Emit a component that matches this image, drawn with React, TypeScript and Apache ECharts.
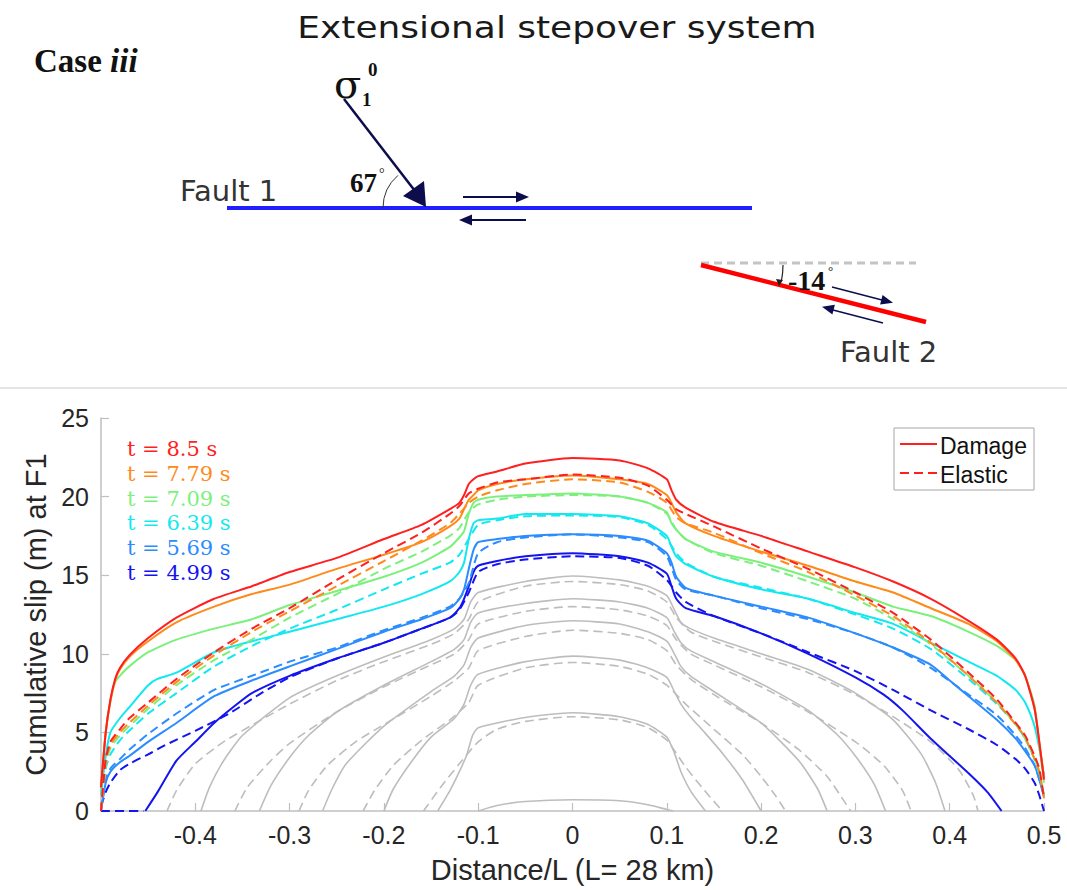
import React, { useEffect, useRef } from "react";
import * as echarts from "echarts";

// ---------- data (x = Distance/L, y = cumulative slip in m) ----------
const X_TICK_MIN = -0.5;
const X_TICK_MAX = 0.5;
const Y_TICK_MIN = 0;
const Y_TICK_MAX = 25;

const TIME_LABELS = ["t = 8.5 s", "t = 7.79 s", "t = 7.09 s", "t = 6.39 s", "t = 5.69 s", "t = 4.99 s"];
const TIME_COLORS = ["#ff1f1f", "#ff8a1a", "#7cf07c", "#12e8f0", "#2b8cff", "#1414f0"];
const GRAY = "#bdbdbd";

const RED_DAMAGE = [[-0.5,1.5],[-0.495,5.0],[-0.49,7.1],[-0.485,8.4],[-0.48,9.1],[-0.47,9.9],[-0.45,11.0],[-0.42,12.3],[-0.38,13.5],[-0.34,14.3],[-0.3,15.2],[-0.25,16.1],[-0.2,17.3],[-0.16,18.2],[-0.13,19.2],[-0.12,19.6],[-0.115,20.1],[-0.11,20.8],[-0.105,21.1],[-0.1,21.3],[-0.08,21.6],[-0.05,22.1],[0,22.45],[0.05,22.3],[0.08,21.8],[0.1,21.1],[0.105,20.4],[0.11,19.8],[0.12,19.3],[0.15,18.4],[0.2,17.5],[0.25,16.5],[0.3,15.5],[0.34,14.6],[0.38,13.5],[0.42,12.1],[0.45,10.9],[0.47,9.7],[0.48,8.6],[0.49,6.5],[0.495,4.4],[0.5,2.0]];
const ORANGE_DAMAGE = [[-0.5,1.5],[-0.495,5.0],[-0.49,7.0],[-0.485,8.3],[-0.48,9.0],[-0.47,9.8],[-0.45,10.8],[-0.42,12.0],[-0.38,13.0],[-0.34,13.8],[-0.3,14.4],[-0.25,15.4],[-0.2,16.3],[-0.16,17.1],[-0.13,18.1],[-0.12,18.6],[-0.115,19.2],[-0.11,19.8],[-0.105,20.1],[-0.1,20.4],[-0.08,20.8],[-0.05,21.1],[0,21.35],[0.05,21.1],[0.08,20.8],[0.1,20.1],[0.105,19.6],[0.11,19.0],[0.12,18.3],[0.15,17.5],[0.2,16.5],[0.25,15.6],[0.3,14.6],[0.34,13.9],[0.38,12.9],[0.42,11.9],[0.45,10.8],[0.47,9.6],[0.48,8.6],[0.49,6.5],[0.495,4.4],[0.5,2.1]];
const GREEN_DAMAGE = [[-0.5,1.4],[-0.495,5.0],[-0.49,7.0],[-0.485,8.2],[-0.48,8.6],[-0.47,9.2],[-0.45,10.1],[-0.42,10.9],[-0.38,11.6],[-0.34,12.2],[-0.3,13.1],[-0.25,14.0],[-0.2,14.9],[-0.16,15.8],[-0.13,16.8],[-0.12,17.4],[-0.115,17.8],[-0.11,18.9],[-0.105,19.6],[-0.1,19.8],[-0.08,20.0],[-0.05,20.1],[0,20.2],[0.05,20.0],[0.08,19.6],[0.1,19.0],[0.105,18.3],[0.11,17.9],[0.12,17.3],[0.15,16.5],[0.2,15.8],[0.25,14.9],[0.3,13.9],[0.34,13.0],[0.38,12.4],[0.42,11.4],[0.45,10.5],[0.47,9.6],[0.48,8.6],[0.49,6.7],[0.495,4.2],[0.5,1.8]];
const CYAN_DAMAGE = [[-0.5,1.0],[-0.495,3.5],[-0.49,5.0],[-0.48,5.9],[-0.47,6.6],[-0.45,8.0],[-0.44,8.4],[-0.42,8.8],[-0.38,10.1],[-0.34,10.8],[-0.3,11.4],[-0.25,12.2],[-0.2,13.0],[-0.16,13.8],[-0.13,14.6],[-0.12,15.2],[-0.115,15.8],[-0.11,17.3],[-0.105,18.3],[-0.1,18.5],[-0.08,18.6],[-0.05,18.9],[0,18.9],[0.05,18.75],[0.08,18.3],[0.1,17.5],[0.105,16.8],[0.11,16.2],[0.12,15.7],[0.15,14.9],[0.2,14.1],[0.25,13.5],[0.3,12.6],[0.34,11.9],[0.38,10.7],[0.42,9.5],[0.45,8.6],[0.47,7.7],[0.48,6.9],[0.49,5.4],[0.495,4.0],[0.5,2.3]];
const LIGHTBLUE_DAMAGE = [[-0.5,0],[-0.495,1.8],[-0.49,2.5],[-0.48,3.1],[-0.47,3.5],[-0.45,4.4],[-0.42,5.6],[-0.38,7.3],[-0.34,8.3],[-0.3,9.2],[-0.25,10.3],[-0.2,11.4],[-0.16,12.2],[-0.13,12.9],[-0.12,13.5],[-0.115,14.1],[-0.11,15.4],[-0.105,16.6],[-0.1,17.1],[-0.08,17.3],[-0.05,17.5],[0,17.6],[0.05,17.5],[0.08,17.2],[0.1,16.4],[0.105,15.8],[0.11,14.9],[0.12,14.2],[0.15,13.7],[0.2,13.0],[0.25,12.3],[0.3,11.3],[0.34,10.4],[0.38,9.3],[0.4,8.3],[0.42,7.3],[0.45,5.8],[0.47,4.6],[0.48,3.8],[0.49,2.9],[0.495,2.0],[0.5,0.9]];
const BLUE_DAMAGE = [[-0.453,0],[-0.44,1.2],[-0.42,3.2],[-0.4,4.4],[-0.38,5.6],[-0.36,6.6],[-0.34,7.5],[-0.3,8.6],[-0.25,9.7],[-0.2,10.7],[-0.16,11.6],[-0.13,12.3],[-0.12,12.9],[-0.115,13.5],[-0.11,14.3],[-0.105,15.2],[-0.1,15.6],[-0.08,15.9],[-0.05,16.2],[0,16.4],[0.05,16.2],[0.08,15.8],[0.1,15.1],[0.105,14.3],[0.11,13.5],[0.12,12.9],[0.15,12.4],[0.2,11.3],[0.25,10.0],[0.3,8.5],[0.33,7.4],[0.35,6.4],[0.38,4.6],[0.42,2.4],[0.44,1.2],[0.455,0]];
const BLUE_TIP_ZERO = [[-0.5,0],[-0.455,0]];

const RED_ELASTIC = [[-0.5,0],[-0.495,3.3],[-0.49,4.4],[-0.48,5.2],[-0.47,5.9],[-0.45,6.9],[-0.42,8.4],[-0.38,10.1],[-0.34,11.6],[-0.3,12.9],[-0.25,14.7],[-0.2,16.4],[-0.16,17.7],[-0.13,18.9],[-0.12,19.4],[-0.11,20.2],[-0.1,20.5],[-0.08,20.9],[-0.05,21.1],[0,21.4],[0.05,21.2],[0.08,20.7],[0.1,19.8],[0.11,19.2],[0.12,18.9],[0.15,18.1],[0.2,16.7],[0.25,15.4],[0.3,13.9],[0.34,12.6],[0.38,10.9],[0.42,8.8],[0.45,7.1],[0.47,5.6],[0.48,4.8],[0.49,3.5],[0.495,2.7],[0.5,0.8]];
const ORANGE_ELASTIC = [[-0.5,0],[-0.495,3.1],[-0.49,4.2],[-0.48,5.0],[-0.47,5.6],[-0.45,6.7],[-0.42,8.2],[-0.38,9.9],[-0.34,11.4],[-0.3,12.7],[-0.25,14.3],[-0.2,15.9],[-0.16,17.2],[-0.13,18.3],[-0.12,18.9],[-0.11,19.6],[-0.1,20.0],[-0.08,20.4],[-0.05,20.8],[0,21.1],[0.05,20.9],[0.08,20.3],[0.1,19.6],[0.11,18.7],[0.12,18.3],[0.15,17.7],[0.2,16.4],[0.25,15.2],[0.3,13.7],[0.34,12.4],[0.38,10.7],[0.42,8.6],[0.45,6.9],[0.47,5.5],[0.48,4.7],[0.49,3.3],[0.495,2.5],[0.5,0.8]];
const GREEN_ELASTIC = [[-0.5,0],[-0.495,2.9],[-0.49,4.0],[-0.48,4.8],[-0.47,5.4],[-0.45,6.5],[-0.42,8.0],[-0.38,9.6],[-0.34,10.9],[-0.3,12.3],[-0.25,13.8],[-0.2,15.4],[-0.16,16.5],[-0.13,17.5],[-0.12,18.0],[-0.11,19.0],[-0.1,19.5],[-0.08,19.8],[-0.05,20.0],[0,20.1],[0.05,20.0],[0.08,19.6],[0.1,18.9],[0.11,17.9],[0.12,17.3],[0.15,16.4],[0.2,15.6],[0.25,14.6],[0.3,13.5],[0.34,12.2],[0.38,10.6],[0.42,8.6],[0.45,6.9],[0.47,5.5],[0.48,4.6],[0.49,3.3],[0.495,2.5],[0.5,1.0]];
const CYAN_ELASTIC = [[-0.5,0],[-0.495,2.7],[-0.49,3.6],[-0.48,4.5],[-0.47,5.1],[-0.45,6.2],[-0.42,7.5],[-0.38,9.2],[-0.34,10.5],[-0.3,11.6],[-0.25,12.8],[-0.2,14.1],[-0.16,15.1],[-0.13,15.8],[-0.12,16.3],[-0.11,17.3],[-0.1,18.2],[-0.08,18.5],[-0.05,18.75],[0,18.8],[0.05,18.7],[0.08,18.2],[0.1,17.3],[0.11,16.4],[0.12,15.8],[0.15,14.9],[0.2,14.2],[0.25,13.5],[0.3,12.5],[0.34,11.6],[0.38,10.3],[0.42,8.4],[0.45,6.8],[0.47,5.5],[0.48,4.6],[0.49,3.3],[0.495,2.3],[0.5,1.0]];
const LIGHTBLUE_ELASTIC = [[-0.5,0],[-0.495,2.0],[-0.49,2.7],[-0.48,3.3],[-0.47,3.9],[-0.45,4.9],[-0.42,6.2],[-0.38,7.7],[-0.34,8.6],[-0.3,9.5],[-0.25,10.4],[-0.2,11.5],[-0.16,12.3],[-0.13,13.0],[-0.12,13.5],[-0.11,14.5],[-0.1,16.4],[-0.08,17.1],[-0.05,17.4],[0,17.6],[0.05,17.4],[0.08,17.1],[0.1,16.2],[0.11,14.7],[0.12,14.1],[0.15,13.7],[0.2,12.9],[0.25,12.2],[0.3,11.3],[0.34,10.4],[0.38,9.1],[0.42,7.4],[0.45,6.1],[0.47,4.8],[0.48,4.0],[0.49,2.9],[0.495,2.0],[0.5,1.0]];
const BLUE_ELASTIC = [[-0.5,0.3],[-0.495,1.2],[-0.49,1.8],[-0.48,2.6],[-0.47,3.0],[-0.45,3.6],[-0.435,4.1],[-0.4,5.1],[-0.364,6.2],[-0.33,7.5],[-0.3,8.5],[-0.25,9.7],[-0.2,10.7],[-0.16,11.6],[-0.13,12.3],[-0.12,12.8],[-0.11,13.9],[-0.1,15.2],[-0.08,15.7],[-0.05,16.0],[0,16.2],[0.05,16.1],[0.08,15.6],[0.1,14.7],[0.11,13.9],[0.12,13.3],[0.15,12.4],[0.2,11.3],[0.25,10.1],[0.3,8.9],[0.34,7.7],[0.38,6.4],[0.42,5.2],[0.45,4.2],[0.47,3.3],[0.48,2.7],[0.49,1.8],[0.495,1.0],[0.5,0]];

const GRAY1_DAMAGE = [[-0.394,0],[-0.385,1.5],[-0.37,3.2],[-0.35,4.8],[-0.3,7.2],[-0.25,8.6],[-0.2,9.8],[-0.15,10.9],[-0.125,11.6],[-0.115,12.2],[-0.108,13.3],[-0.1,13.9],[-0.05,14.6],[0,14.95],[0.05,14.7],[0.08,14.3],[0.1,13.7],[0.108,12.8],[0.115,12.0],[0.125,11.6],[0.15,11.0],[0.2,10.0],[0.25,9.0],[0.3,7.5],[0.34,5.8],[0.37,3.6],[0.385,1.8],[0.395,0]];
const GRAY1_ELASTIC = [[-0.43,0],[-0.42,1.3],[-0.4,3.0],[-0.37,4.4],[-0.33,5.8],[-0.3,6.8],[-0.25,8.3],[-0.2,9.5],[-0.15,10.6],[-0.125,11.3],[-0.11,12.2],[-0.1,13.3],[-0.05,14.3],[0,14.6],[0.05,14.4],[0.08,14.0],[0.1,13.3],[0.11,12.3],[0.125,11.4],[0.15,10.8],[0.2,9.8],[0.25,8.8],[0.3,7.4],[0.34,6.0],[0.38,4.4],[0.41,2.6],[0.425,1.0],[0.43,0]];
const GRAY2_DAMAGE = [[-0.332,0],[-0.32,1.6],[-0.3,3.4],[-0.28,4.8],[-0.25,6.3],[-0.2,8.0],[-0.15,9.5],[-0.125,10.3],[-0.115,10.9],[-0.108,12.0],[-0.1,12.6],[-0.05,13.2],[0,13.5],[0.05,13.3],[0.08,12.9],[0.1,12.3],[0.108,11.4],[0.115,10.7],[0.125,10.2],[0.15,9.5],[0.2,8.1],[0.25,6.4],[0.28,4.9],[0.3,3.5],[0.32,1.7],[0.332,0]];
const GRAY2_ELASTIC = [[-0.358,0],[-0.345,1.5],[-0.32,3.2],[-0.3,4.3],[-0.25,6.3],[-0.2,7.9],[-0.15,9.3],[-0.125,10.0],[-0.11,10.9],[-0.1,11.9],[-0.05,12.7],[0,13.0],[0.05,12.8],[0.08,12.4],[0.1,11.8],[0.11,10.9],[0.125,10.0],[0.15,9.3],[0.2,7.9],[0.25,6.3],[0.3,4.4],[0.33,2.9],[0.35,1.3],[0.359,0]];
const GRAY3_DAMAGE = [[-0.265,0],[-0.255,1.4],[-0.24,3.0],[-0.2,5.4],[-0.15,7.6],[-0.125,8.6],[-0.115,9.3],[-0.108,10.4],[-0.1,11.0],[-0.05,11.8],[0,12.1],[0.05,11.9],[0.08,11.4],[0.1,10.8],[0.108,10.0],[0.115,9.2],[0.125,8.6],[0.15,7.6],[0.2,5.6],[0.24,3.2],[0.26,1.4],[0.27,0]];
const GRAY3_ELASTIC = [[-0.29,0],[-0.28,1.3],[-0.26,2.9],[-0.23,4.4],[-0.2,5.5],[-0.15,7.3],[-0.125,8.3],[-0.11,9.1],[-0.1,10.2],[-0.05,11.1],[0,11.5],[0.05,11.3],[0.08,10.9],[0.1,10.2],[0.11,9.3],[0.125,8.4],[0.15,7.4],[0.2,5.6],[0.24,3.9],[0.27,2.2],[0.285,0.9],[0.295,0]];
const GRAY4_DAMAGE = [[-0.2,0],[-0.19,1.4],[-0.17,3.2],[-0.15,4.7],[-0.125,5.9],[-0.115,6.8],[-0.108,8.0],[-0.1,8.7],[-0.05,9.5],[0,9.85],[0.05,9.6],[0.08,9.1],[0.1,8.5],[0.108,7.6],[0.115,6.8],[0.125,6.0],[0.14,5.0],[0.16,3.6],[0.18,2.0],[0.2,0]];
const GRAY4_ELASTIC = [[-0.222,0],[-0.21,1.3],[-0.19,2.9],[-0.16,4.5],[-0.13,5.8],[-0.11,6.9],[-0.1,8.0],[-0.05,9.1],[0,9.45],[0.05,9.2],[0.08,8.7],[0.1,8.0],[0.12,6.8],[0.15,5.2],[0.18,3.6],[0.2,2.2],[0.215,1.0],[0.226,0]];
const GRAY5_DAMAGE = [[-0.143,0],[-0.13,1.3],[-0.12,2.5],[-0.112,3.6],[-0.106,4.8],[-0.1,5.3],[-0.05,5.95],[0,6.25],[0.05,6.0],[0.08,5.5],[0.1,4.7],[0.108,3.7],[0.115,2.5],[0.126,1.2],[0.141,0]];
const GRAY5_ELASTIC = [[-0.158,0],[-0.14,1.5],[-0.12,3.0],[-0.1,4.4],[-0.08,5.2],[-0.05,5.7],[0,6.0],[0.05,5.8],[0.08,5.3],[0.1,4.5],[0.12,2.8],[0.14,1.3],[0.159,0]];
const GRAY6_DAMAGE = [[-0.1,0],[-0.08,0.35],[-0.05,0.6],[0,0.72],[0.05,0.65],[0.08,0.4],[0.1,0.1],[0.107,0]];

const GRAY_DAMAGE = [GRAY1_DAMAGE, GRAY2_DAMAGE, GRAY3_DAMAGE, GRAY4_DAMAGE, GRAY5_DAMAGE, GRAY6_DAMAGE];
const GRAY_ELASTIC = [GRAY1_ELASTIC, GRAY2_ELASTIC, GRAY3_ELASTIC, GRAY4_ELASTIC, GRAY5_ELASTIC];
// index order matches TIME_LABELS / TIME_COLORS (latest first)
const COLORED_DAMAGE = [RED_DAMAGE, ORANGE_DAMAGE, GREEN_DAMAGE, CYAN_DAMAGE, LIGHTBLUE_DAMAGE, BLUE_DAMAGE];
const COLORED_ELASTIC = [RED_ELASTIC, ORANGE_ELASTIC, GREEN_ELASTIC, CYAN_ELASTIC, LIGHTBLUE_ELASTIC, BLUE_ELASTIC];

const DASH = [9, 5];
const NAVY = "#0d0d4d";

function lineSeries(name: string, data: number[][], color: string, dashed: boolean, width: number, z: number) {
  return {
    type: "line",
    name,
    data,
    showSymbol: false,
    symbol: "none",
    smooth: 0.2,
    silent: true,
    z,
    lineStyle: { color, width, type: dashed ? DASH : "solid" },
  };
}

function arrowHead(tipX: number, tipY: number, dx: number, dy: number, len: number, half: number) {
  const bx = tipX - dx * len;
  const by = tipY - dy * len;
  const px = -dy * half;
  const py = dx * half;
  return {
    type: "polygon",
    shape: { points: [[tipX, tipY], [bx + px, by + py], [bx - px, by - py]] },
    style: { fill: NAVY },
    z: 100,
  };
}

export default function App() {
  const ref = useRef<HTMLDivElement>(null);
  useEffect(() => {
    if (!ref.current) return;
    const chart = echarts.init(ref.current, undefined, { renderer: "svg" });

    const series: any[] = [];
    GRAY_DAMAGE.forEach((d, i) => series.push(lineSeries("g" + i, d, GRAY, false, 1.6, 2)));
    GRAY_ELASTIC.forEach((d, i) => series.push(lineSeries("ge" + i, d, GRAY, true, 1.6, 2)));
    series.push(lineSeries("bz", BLUE_TIP_ZERO, TIME_COLORS[5], true, 2, 3));
    for (let i = COLORED_DAMAGE.length - 1; i >= 0; i--) {
      series.push(lineSeries("d" + i, COLORED_DAMAGE[i], TIME_COLORS[i], false, 2, 3));
      series.push(lineSeries("e" + i, COLORED_ELASTIC[i], TIME_COLORS[i], true, 2, 3));
    }

    const f2dx = 0.97, f2dy = 0.246;
    const graphics: any[] = [
      // title and case label
      { type: "text", x: 557, y: 27, z: 100, scaleX: 1.16, style: { text: "Extensional stepover system", fontFamily: "DejaVu Sans", fontSize: 31, fill: "#1a1a1a", textAlign: "center", textVerticalAlign: "middle" } },
      { type: "text", x: 34, y: 61, z: 100, style: { text: "{a|Case }{b|iii}", textVerticalAlign: "middle", rich: { a: { fontFamily: "Liberation Serif", fontSize: 33, fontWeight: "bold", fill: "#111" }, b: { fontFamily: "Liberation Serif", fontSize: 33, fontWeight: "bold", fontStyle: "italic", fill: "#111" } } } },
      // Fault 1
      { type: "line", z: 100, shape: { x1: 227, y1: 208, x2: 752, y2: 208 }, style: { stroke: "#1f1fff", lineWidth: 4 } },
      { type: "text", x: 180, y: 191, z: 100, style: { text: "Fault 1", fontFamily: "DejaVu Sans", fontSize: 29, fill: "#333", textVerticalAlign: "middle" } },
      // sigma arrow
      { type: "line", z: 100, shape: { x1: 344, y1: 99, x2: 415, y2: 191 }, style: { stroke: NAVY, lineWidth: 2.5 } },
      { type: "polygon", z: 100, shape: { points: [[426, 207], [403, 196], [424, 181]] }, style: { fill: NAVY } },
      { type: "arc", z: 100, shape: { cx: 426, cy: 208, r: 43, startAngle: Math.PI, endAngle: Math.PI + 0.86, clockwise: true }, style: { stroke: "#333", lineWidth: 1, fill: "none" } },
      { type: "text", x: 350, y: 183, z: 100, style: { text: "67", fontFamily: "Liberation Serif", fontSize: 27, fontWeight: "bold", fill: "#111", textVerticalAlign: "middle" } },
      { type: "text", x: 379, y: 173, z: 100, style: { text: "°", fontFamily: "Liberation Serif", fontSize: 14, fill: "#111", textVerticalAlign: "middle" } },
      { type: "text", x: 334, y: 84, z: 100, style: { text: "σ", fontFamily: "DejaVu Serif", fontSize: 40, fill: "#111", textVerticalAlign: "middle" } },
      { type: "text", x: 362, y: 99, z: 100, style: { text: "1", fontFamily: "Liberation Serif", fontSize: 19, fontWeight: "bold", fill: "#111", textVerticalAlign: "middle" } },
      { type: "text", x: 368, y: 69, z: 100, style: { text: "0", fontFamily: "Liberation Serif", fontSize: 19, fontWeight: "bold", fill: "#111", textVerticalAlign: "middle" } },
      // slip arrows fault 1
      { type: "line", z: 100, shape: { x1: 463, y1: 197, x2: 518, y2: 197 }, style: { stroke: NAVY, lineWidth: 2 } },
      arrowHead(529, 197, 1, 0, 13, 5.5),
      { type: "line", z: 100, shape: { x1: 526, y1: 220, x2: 470, y2: 220 }, style: { stroke: NAVY, lineWidth: 2 } },
      arrowHead(459, 220, -1, 0, 13, 5.5),
      // Fault 2
      { type: "line", z: 100, shape: { x1: 701, y1: 263, x2: 916, y2: 263 }, style: { stroke: "#c4c4c4", lineWidth: 3, lineDash: [8, 5] } },
      { type: "line", z: 101, shape: { x1: 701, y1: 265, x2: 926, y2: 322 }, style: { stroke: "#ff0000", lineWidth: 4.5 } },
      { type: "arc", z: 102, shape: { cx: 701, cy: 265, r: 82, startAngle: 0, endAngle: 0.2, clockwise: true }, style: { stroke: "#222", lineWidth: 1.2, fill: "none" } },
      { type: "polygon", z: 102, shape: { points: [[779, 286], [776, 279], [783, 280]] }, style: { fill: "#222" } },
      { type: "text", x: 788, y: 280, z: 102, style: { text: "-14", fontFamily: "Liberation Serif", fontSize: 28, fontWeight: "bold", fill: "#111", textVerticalAlign: "middle" } },
      { type: "text", x: 828, y: 270, z: 102, style: { text: "°", fontFamily: "Liberation Serif", fontSize: 13, fill: "#111", textVerticalAlign: "middle" } },
      { type: "line", z: 100, shape: { x1: 832, y1: 287, x2: 882, y2: 300 }, style: { stroke: NAVY, lineWidth: 1.5 } },
      arrowHead(893, 302.7, f2dx, f2dy, 12, 5),
      { type: "line", z: 100, shape: { x1: 883, y1: 323, x2: 833, y2: 310 }, style: { stroke: NAVY, lineWidth: 1.5 } },
      arrowHead(822, 306.7, -f2dx, -f2dy, 12, 5),
      { type: "text", x: 840, y: 352, z: 100, style: { text: "Fault 2", fontFamily: "DejaVu Sans", fontSize: 29, fill: "#333", textVerticalAlign: "middle" } },
      // separator
      { type: "line", z: 100, shape: { x1: 0, y1: 388, x2: 1067, y2: 388 }, style: { stroke: "#e4e4e4", lineWidth: 2 } },
      // legend box
      { type: "rect", z: 100, shape: { x: 894, y: 428, width: 140, height: 62 }, style: { fill: "#fff", stroke: "#a6a6a6", lineWidth: 1 } },
      { type: "line", z: 101, shape: { x1: 900, y1: 444, x2: 937, y2: 444 }, style: { stroke: TIME_COLORS[0], lineWidth: 2 } },
      { type: "line", z: 101, shape: { x1: 900, y1: 473, x2: 937, y2: 473 }, style: { stroke: TIME_COLORS[0], lineWidth: 2, lineDash: DASH } },
      { type: "text", x: 940, y: 446, z: 101, style: { text: "Damage", fontFamily: "Liberation Sans", fontSize: 23, fill: "#111", textVerticalAlign: "middle" } },
      { type: "text", x: 940, y: 475, z: 101, style: { text: "Elastic", fontFamily: "Liberation Sans", fontSize: 23, fill: "#111", textVerticalAlign: "middle" } },
    ];
    TIME_LABELS.forEach((t, i) => {
      graphics.push({ type: "text", x: 127, y: 449 + i * 24.8, z: 100, style: { text: t, fontFamily: "DejaVu Serif", fontSize: 21, fill: TIME_COLORS[i], textVerticalAlign: "middle" } });
    });

    chart.setOption({
      animation: false,
      backgroundColor: "#ffffff",
      grid: { left: 101, right: 23, top: 418, bottom: 79, containLabel: false },
      xAxis: {
        type: "value",
        min: X_TICK_MIN,
        max: X_TICK_MAX,
        interval: 0.1,
        name: "Distance/L (L= 28 km)",
        nameLocation: "middle",
        nameGap: 44,
        nameTextStyle: { fontFamily: "Liberation Sans", fontSize: 29, color: "#262626" },
        axisLine: { show: true, onZero: false, lineStyle: { color: "#bfbfbf", width: 1.5 } },
        axisTick: { show: true, inside: true, length: 8, lineStyle: { color: "#bfbfbf", width: 1.2 } },
        axisLabel: {
          fontFamily: "Liberation Sans",
          fontSize: 25,
          color: "#262626",
          margin: 11,
          formatter: (v: number) => (v <= -0.4999 ? "" : String(Math.round(v * 10) / 10)),
        },
        splitLine: { show: false },
      },
      yAxis: {
        type: "value",
        min: Y_TICK_MIN,
        max: Y_TICK_MAX,
        interval: 5,
        name: "Cumulative slip (m) at F1",
        nameLocation: "middle",
        nameGap: 46,
        nameTextStyle: { fontFamily: "Liberation Sans", fontSize: 29, color: "#262626" },
        axisLine: { show: true, onZero: false, lineStyle: { color: "#bfbfbf", width: 1.5 } },
        axisTick: { show: true, inside: true, length: 8, lineStyle: { color: "#bfbfbf", width: 1.2 } },
        axisLabel: { fontFamily: "Liberation Sans", fontSize: 25, color: "#262626", margin: 12 },
        splitLine: { show: false },
      },
      series,
      graphic: graphics,
    });
    return () => chart.dispose();
  }, []);
  return <div ref={ref} style={{ position: "absolute", left: 0, top: 0, width: 1067, height: 890 }} />;
}
